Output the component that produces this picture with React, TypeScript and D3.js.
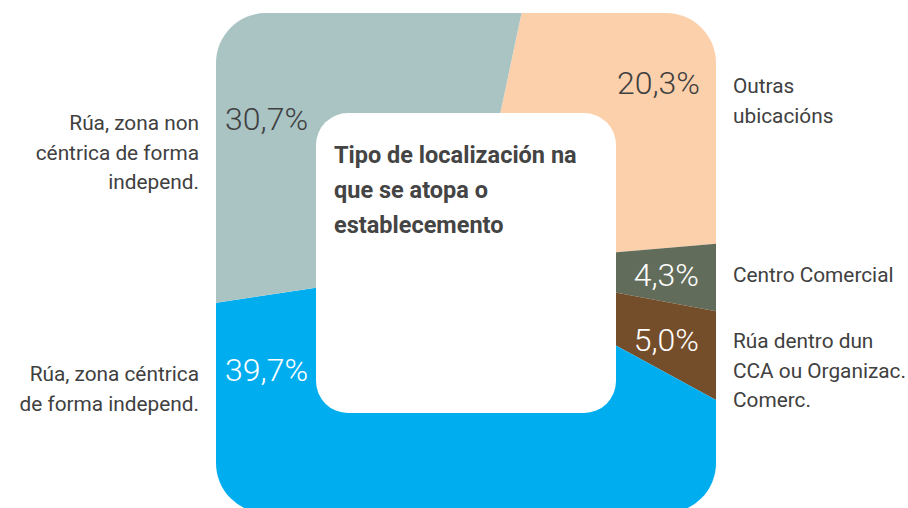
import React from 'react';
import * as d3 from 'd3';

// data, clockwise from the top
const categories = [
  'Outras ubicacións',
  'Centro Comercial',
  'Rúa dentro dun CCA ou Organizac. Comerc.',
  'Rúa, zona céntrica de forma independ.',
  'Rúa, zona non céntrica de forma independ.',
];
const shares = [20.3, 4.3, 5.0, 39.7, 30.7];
const shareLabels = ['20,3%', '4,3%', '5,0%', '39,7%', '30,7%'];
const labelLines = [
  ['Outras', 'ubicacións'],
  ['Centro Comercial'],
  ['Rúa dentro dun', 'CCA ou Organizac.', 'Comerc.'],
  ['Rúa, zona céntrica', 'de forma independ.'],
  ['Rúa, zona non', 'céntrica de forma', 'independ.'],
];
const title = ['Tipo de localización na', 'que se atopa o', 'establecemento'];

const colors = ['#fdd0ac', '#626c5a', '#744e2b', '#00aeef', '#aac4c4'];
const pctColors = ['#404040', '#ffffff', '#ffffff', '#ffffff', '#404040'];

// where each slice's texts sit (percent text, then category text)
const pctPos = [
  { x: 700, y: 94, anchor: 'end' },
  { x: 699, y: 286, anchor: 'end' },
  { x: 699, y: 351, anchor: 'end' },
  { x: 225, y: 381, anchor: 'start' },
  { x: 225, y: 130, anchor: 'start' },
];
const labelPos = [
  { x: 733, y: 93, anchor: 'start' },
  { x: 733, y: 282, anchor: 'start' },
  { x: 733, y: 348, anchor: 'start' },
  { x: 199, y: 381, anchor: 'end' },
  { x: 199, y: 130, anchor: 'end' },
];

const W = 908;
const H = 508;
const cx = 468;
const cy = 265;
const FONT = 'Roboto, "Noto Sans", sans-serif';

export default function App() {
  const pie = d3
    .pie<number>()
    .sort(null)
    .value(d => d)
    .startAngle((12 * Math.PI) / 180)
    .endAngle((12 * Math.PI) / 180 + 2 * Math.PI);
  const arc = d3.arc<d3.PieArcDatum<number>>().innerRadius(0).outerRadius(420);
  const slices = pie(shares);

  return (
    <svg
      width={W}
      height={H}
      style={{ position: 'absolute', left: 0, top: 0, background: '#fff' }}
      fontFamily={FONT}
    >
      <defs>
        <clipPath id="box">
          <rect x={216} y={13} width={500} height={500} rx={50} ry={50} />
        </clipPath>
      </defs>
      <g clipPath="url(#box)">
        <g transform={`translate(${cx},${cy})`}>
          {slices.map((s, i) => (
            <path key={categories[i]} d={arc(s) || ''} fill={colors[i]} />
          ))}
        </g>
      </g>
      <rect x={316} y={113} width={300} height={300} rx={32} ry={32} fill="#fff" />
      <g fontWeight="bold" fontSize={23.5} fill="#444">
        {title.map((t, i) => (
          <text key={t} x={334} y={163 + i * 35}>
            {t}
          </text>
        ))}
      </g>
      {shareLabels.map((t, i) => (
        <text
          key={t}
          x={pctPos[i].x}
          y={pctPos[i].y}
          textAnchor={pctPos[i].anchor}
          fontSize={32}
          fontWeight={300}
          fill={pctColors[i]}
        >
          {t}
        </text>
      ))}
      {labelLines.map((lines, i) => (
        <text
          key={categories[i]}
          textAnchor={labelPos[i].anchor}
          fontSize={20.8}
          fill="#404040"
        >
          {lines.map((l, j) => (
            <tspan key={l} x={labelPos[i].x} y={labelPos[i].y + j * 29.5}>
              {l}
            </tspan>
          ))}
        </text>
      ))}
    </svg>
  );
}
